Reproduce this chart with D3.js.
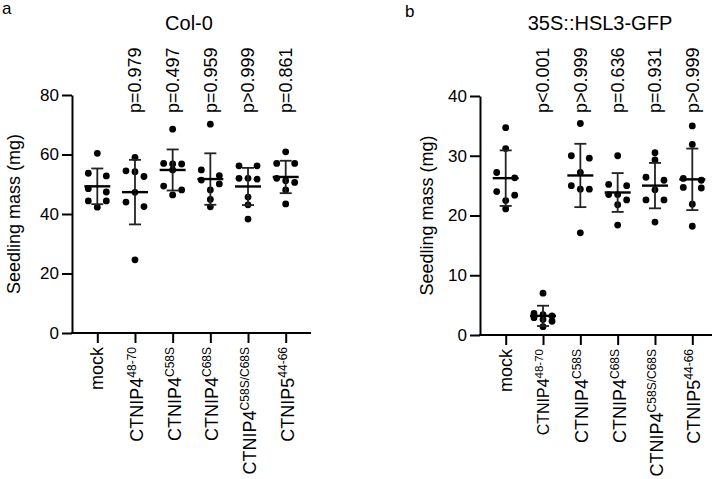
<!DOCTYPE html>
<html>
<head>
<meta charset="utf-8">
<script src="https://cdn.jsdelivr.net/npm/d3@7"></script>
<style>
  html, body { margin: 0; padding: 0; background: #fff; }
  svg { display: block; font-family: "Liberation Sans", Arial, Helvetica, sans-serif; }
</style>
</head>
<body>
<svg id="chart" width="720" height="479"></svg>
<script>
// ---------- data ----------
const categoryBase = ["mock", "CTNIP4", "CTNIP4", "CTNIP4", "CTNIP4", "CTNIP5"];
const categorySup  = ["", "48-70", "C58S", "C68S", "C58S/C68S", "44-66"];

// Panel a: Col-0
const titleA = "Col-0";
const ticksA = [0, 20, 40, 60, 80];
const pvalsA = ["", "p=0.979", "p=0.497", "p=0.959", "p>0.999", "p=0.861"];
const pointsA = [
  [60.4, 53.7, 52.8, 48.5, 47.4, 44.4, 44.4, 42.3],
  [59.0, 54.5, 54.2, 52.6, 47.3, 44.0, 42.5, 24.6],
  [68.5, 57.0, 56.8, 56.8, 54.8, 49.4, 48.1, 46.4],
  [70.2, 54.8, 52.9, 51.4, 50.1, 48.1, 44.9, 42.4],
  [56.2, 56.2, 52.0, 52.0, 51.7, 45.7, 43.1, 38.3],
  [60.9, 57.0, 57.0, 52.0, 51.2, 50.6, 48.1, 43.4]
];
const meansA = [49.3, 47.35, 54.8, 51.75, 49.25, 52.45];
const sdA    = [6.0, 10.85, 6.9, 8.65, 6.25, 5.45];

// Panel b: 35S::HSL3-GFP
const titleB = "35S::HSL3-GFP";
const ticksB = [0, 10, 20, 30, 40];
const pvalsB = ["", "p<0.001", "p>0.999", "p=0.636", "p=0.931", "p>0.999"];
const pointsB = [
  [34.7, 31.2, 27.2, 26.3, 24.0, 23.4, 22.5, 21.1],
  [7.0, 3.6, 3.4, 3.2, 2.9, 2.6, 2.3, 1.4],
  [35.4, 30.0, 29.6, 27.2, 25.0, 24.4, 24.4, 17.1],
  [30.0, 25.2, 25.0, 23.5, 23.5, 22.6, 21.8, 18.4],
  [30.5, 29.3, 26.4, 25.9, 24.3, 22.6, 22.6, 18.9],
  [35.0, 31.9, 26.2, 25.9, 24.7, 24.6, 21.9, 18.2]
];
const meansB = [26.25, 3.2, 26.7, 23.85, 25.0, 26.05];
const sdB    = [4.65, 1.7, 5.3, 3.25, 3.8, 5.15];

const yLabel = "Seedling mass (mg)";

// ---------- drawing ----------
const svg = d3.select("#chart");

function swarmOffsets(vals, y, step) {
  const sorted = vals.map((v, i) => ({ v, i })).sort((a, b) => b.v - a.v);
  const rows = [];
  let cur = null;
  for (const p of sorted) {
    const py = y(p.v);
    if (cur && py - cur.top < 6 && cur.items.length < 3) cur.items.push(p);
    else { cur = { top: py, items: [p] }; rows.push(cur); }
  }
  const out = [];
  for (const r of rows) {
    const n = r.items.length;
    const offs = n === 1 ? [0] : n === 2 ? [-step, step] : [-step, 0, step];
    r.items.forEach((p, k) => out.push({ v: p.v, dx: offs[k] }));
  }
  return out;
}

function drawPanel(cfg) {
  const g = svg.append("g");
  const y = d3.scaleLinear().domain([0, cfg.ymax]).range([cfg.y0, cfg.y1]);
  const idx = d3.range(categoryBase.length);
  const x = d3.scalePoint().domain(idx).range([cfg.xFirst, cfg.xLast]);

  // y axis
  const ya = g.append("g").attr("transform", `translate(${cfg.axisX},0)`)
    .call(d3.axisLeft(y).tickValues(cfg.ticks).tickSize(10).tickSizeOuter(0).tickPadding(3));
  ya.select(".domain").attr("stroke", "#000").attr("stroke-width", 2);
  ya.selectAll(".tick line").attr("stroke", "#000").attr("stroke-width", 2);
  ya.selectAll(".tick text").attr("font-size", 17).attr("fill", "#000")
    .attr("font-family", '"Liberation Sans", Arial, sans-serif');

  // x axis
  const xa = g.append("g").attr("transform", `translate(0,${cfg.y0})`)
    .call(d3.axisBottom(x).tickSize(10).tickSizeOuter(0).tickFormat(""));
  xa.select(".domain").remove();
  xa.selectAll(".tick line").attr("stroke", "#000").attr("stroke-width", 2);
  g.append("line").attr("x1", cfg.axisX - 1).attr("x2", cfg.axisEnd)
    .attr("y1", cfg.y0).attr("y2", cfg.y0).attr("stroke", "#000").attr("stroke-width", 2);

  // x tick labels
  idx.forEach(i => {
    const small = cfg.smallIdx === i;
    const main = small ? 16 : 18, sup = small ? 11.5 : 12;
    const off = categorySup[i] ? (small ? 6 : 8) : 6;
    const t = g.append("text")
      .attr("transform", `translate(${x(i) + off},${cfg.y0 + 14}) rotate(-90)`)
      .attr("text-anchor", "end").attr("fill", "#000");
    t.append("tspan").attr("font-size", main).text(categoryBase[i]);
    if (categorySup[i]) t.append("tspan").attr("font-size", sup).attr("dy", small ? -6.5 : -7).text(categorySup[i]);
  });

  // p-values
  idx.forEach(i => {
    if (!cfg.pvals[i]) return;
    g.append("text")
      .attr("transform", `translate(${x(i)},113) rotate(-90)`)
      .attr("dy", "0.35em").attr("font-size", 18).attr("fill", "#000")
      .text(cfg.pvals[i]);
  });

  // points
  idx.forEach(i => {
    const sw = swarmOffsets(cfg.points[i], y, 9);
    g.selectAll(null).data(sw).enter().append("circle")
      .attr("cx", d => x(i) + d.dx).attr("cy", d => y(d.v)).attr("r", 3.4).attr("fill", "#000");
  });

  // mean and SD
  idx.forEach(i => {
    const m = cfg.means[i], s = cfg.sd[i], cx = x(i);
    g.append("line").attr("x1", cx).attr("x2", cx).attr("y1", y(m + s)).attr("y2", y(Math.max(0, m - s)))
      .attr("stroke", "#222").attr("stroke-width", 1.8);
    [m + s, m - s].forEach(v => g.append("line").attr("x1", cx - 6).attr("x2", cx + 6)
      .attr("y1", y(v)).attr("y2", y(v)).attr("stroke", "#222").attr("stroke-width", 1.8));
    g.append("line").attr("x1", cx - 13).attr("x2", cx + 13).attr("y1", y(m)).attr("y2", y(m))
      .attr("stroke", "#000").attr("stroke-width", 2.4);
  });

  // titles
  g.append("text").attr("x", cfg.titleX).attr("y", 30).attr("text-anchor", "middle")
    .attr("font-size", 20).attr("fill", "#000").text(cfg.title);
  g.append("text").attr("transform", `translate(${cfg.ylabX},${(cfg.y0 + cfg.y1) / 2}) rotate(-90)`)
    .attr("text-anchor", "middle").attr("font-size", 18).attr("fill", "#000").text(yLabel);
  g.append("text").attr("x", cfg.letterX).attr("y", cfg.letterY).attr("font-size", 17)
    .attr("fill", "#000").text(cfg.letter);
}

drawPanel({
  ymax: 80, y0: 333, y1: 95, axisX: 72, axisEnd: 311, xFirst: 97.3, xLast: 285.7,
  ticks: ticksA, pvals: pvalsA, points: pointsA, means: meansA, sd: sdA,
  title: titleA, titleX: 189, ylabX: 20, letter: "a", letterX: 2, letterY: 14, smallIdx: -1
});
drawPanel({
  ymax: 40, y0: 335, y1: 96, axisX: 480, axisEnd: 712, xFirst: 505.7, xLast: 692.3,
  ticks: ticksB, pvals: pvalsB, points: pointsB, means: meansB, sd: sdB,
  title: titleB, titleX: 600, ylabX: 433, letter: "b", letterX: 405, letterY: 17, smallIdx: 1
});
</script>
</body>
</html>
